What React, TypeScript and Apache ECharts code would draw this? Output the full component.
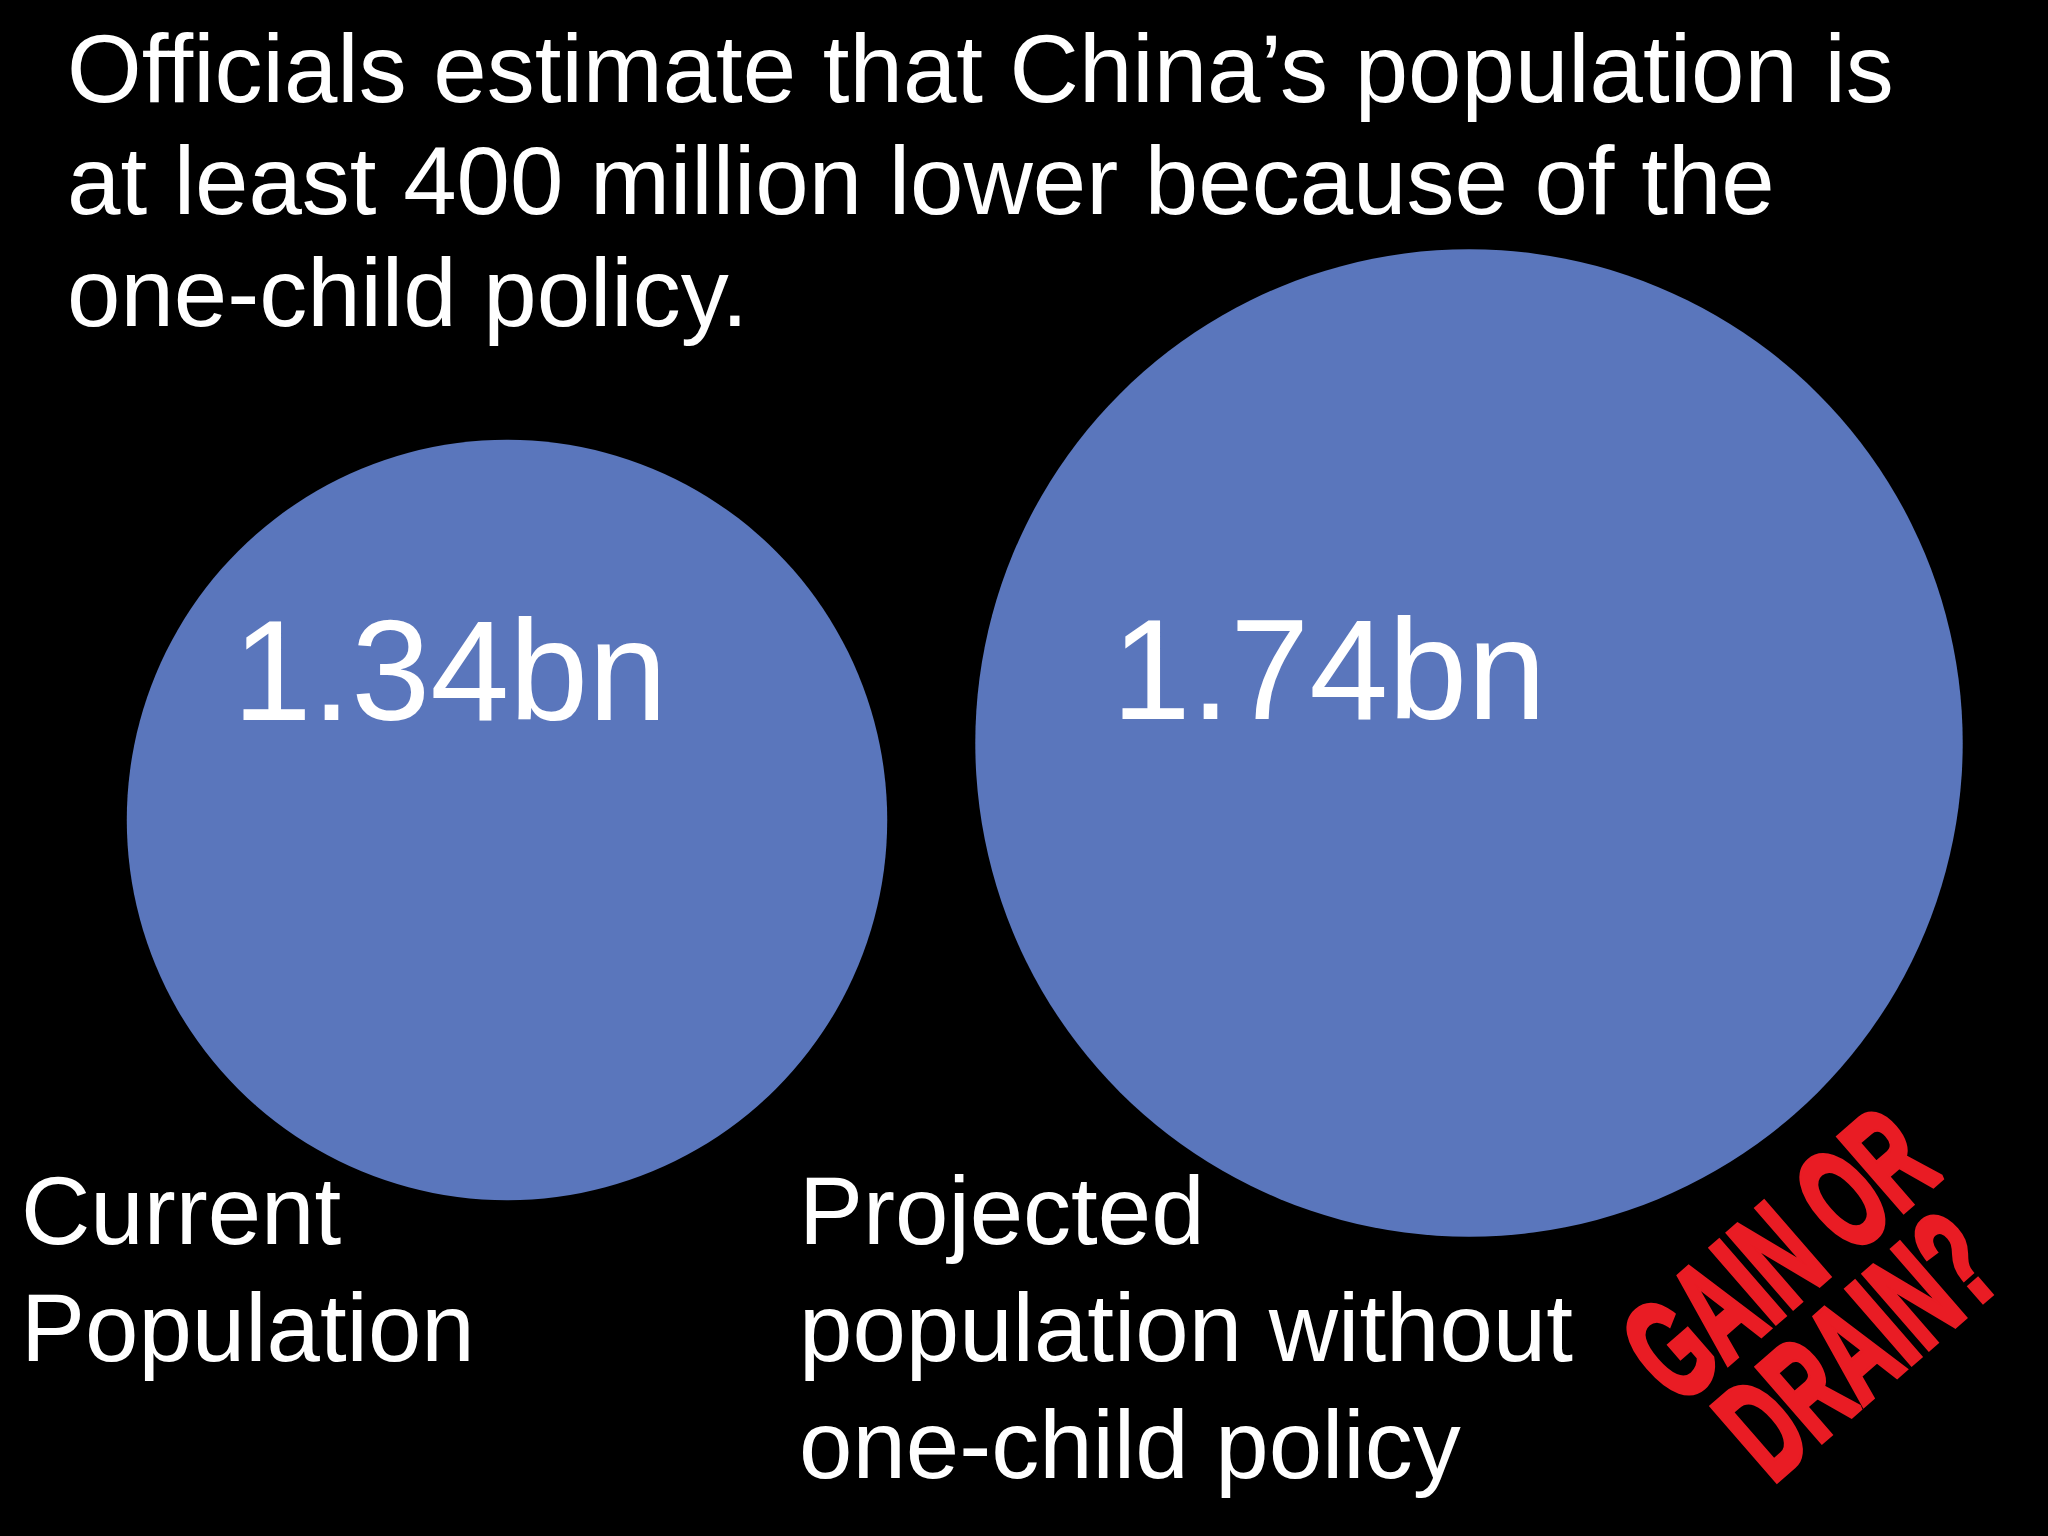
import React, { useEffect, useRef } from "react";
import * as echarts from "echarts";

// ---- data ----
const categories = ["Current\nPopulation", "Projected\npopulation without\none-child policy"];
const populationBn = [1.34, 1.74];
const titleLines = [
  "Officials estimate that China\u2019s population is",
  "at least 400 million lower because of the",
  "one-child policy.",
];
const stampLines = ["GAIN OR", "DRAIN?"];

// ---- layout / style ----
const W = 2048;
const H = 1536;
const FONT = "'Liberation Sans', Arial, Helvetica, sans-serif";
const BLUE = "#5A76BC";
const RED = "#E91C24";
const PX_PER_BN = 567.5; // circle diameter per billion
const labelOffsets = [
  [-57, -150],
  [-140, -74],
];
const captionX = [21, 799];

export default function App() {
  const ref = useRef<HTMLDivElement>(null);
  useEffect(() => {
    if (!ref.current) return;
    const chart = echarts.init(ref.current, undefined, { renderer: "svg", width: W, height: H });
    const option: any = {
      animation: false,
      backgroundColor: "#000000",
      title: {
        text: titleLines.join("\n"),
        left: 67,
        top: 12,
        padding: 0,
        textStyle: {
          color: "#ffffff",
          fontSize: 96,
          fontWeight: "normal",
          fontFamily: FONT,
          lineHeight: 112,
        },
      },
      grid: { left: 26, width: 1924, top: 693, height: 192.5 },
      xAxis: {
        type: "category",
        data: categories,
        show: false,
        boundaryGap: true,
      },
      yAxis: { type: "value", min: 1, max: 2, show: false },
      series: [
        {
          type: "scatter",
          silent: true,
          symbol: "circle",
          symbolSize: (v: any) => (Array.isArray(v) ? v[1] : v) * PX_PER_BN,
          itemStyle: { color: BLUE, opacity: 1 },
          emphasis: { disabled: true },
          data: populationBn.map((v, i) => ({
            value: v,
            label: { offset: labelOffsets[i] },
          })),
          label: {
            show: true,
            position: "inside",
            formatter: (p: any) => `${p.value}bn`,
            color: "#ffffff",
            fontSize: 142,
            fontFamily: FONT,
            fontWeight: "normal",
          },
        },
      ],
      graphic: [
        ...categories.map((c, i) => ({
          type: "text",
          x: captionX[i],
          y: 1152,
          silent: true,
          style: {
            text: c,
            fill: "#ffffff",
            fontSize: 96,
            fontFamily: FONT,
            align: "left",
            verticalAlign: "top",
            lineHeight: 117,
          },
        })),
        {
          type: "group",
          x: 1818,
          y: 1300,
          rotation: (41 * Math.PI) / 180,
          silent: true,
          children: [
            {
              type: "text",
              x: 0,
              y: 0,
              scaleX: 0.58,
              style: {
                text: stampLines.join("\n"),
                fill: RED,
                fontSize: 142,
                fontWeight: "bold",
                fontFamily: FONT,
                align: "center",
                verticalAlign: "middle",
                lineHeight: 120,
                stroke: RED,
                lineWidth: 6,
                shadowColor: "rgba(0,0,0,0.8)",
                shadowBlur: 4,
              },
            },
          ],
        },
      ],
    };
    chart.setOption(option);
    return () => chart.dispose();
  }, []);
  return (
    <div
      ref={ref}
      style={{ position: "fixed", left: 0, top: 0, width: W, height: H, background: "#000" }}
    />
  );
}
